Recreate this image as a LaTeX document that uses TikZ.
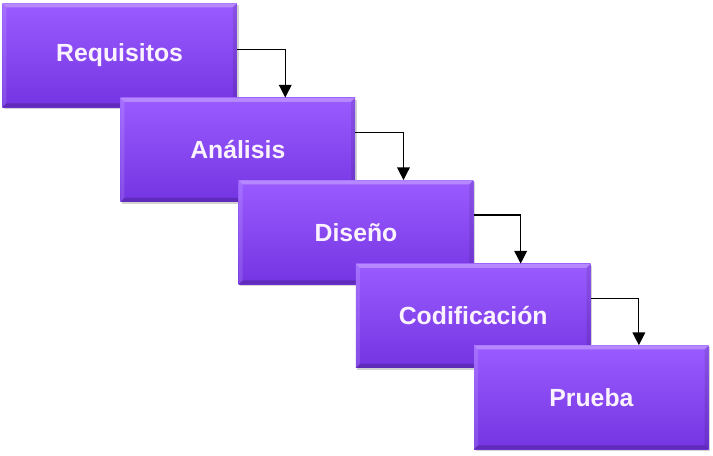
\documentclass[tikz,border=0pt]{standalone}
\usepackage{fontspec}
\setmainfont{Liberation Sans}
\usepackage{tikz}
\usetikzlibrary{positioning,shadows,arrows.meta}
\definecolor{fasearriba}{HTML}{9A5CFF}
\definecolor{faseabajo}{HTML}{7434E2}
\definecolor{fasetexto}{HTML}{FBF2FF}

\begin{document}
\begin{tikzpicture}[
				fase/.style={rectangle, minimum width=176pt, minimum height=78pt,
					top color=fasearriba, bottom color=faseabajo, draw=none,
					drop shadow={shadow xshift=1.2pt, shadow yshift=-1.5pt, opacity=0.35},
					font=\fontsize{18.6pt}{22pt}\selectfont\bfseries, text=fasetexto,
					path picture={
						\fill[white, opacity=0.28] (path picture bounding box.north west) -- (path picture bounding box.north east) -- ([shift={(-3pt,-3pt)}]path picture bounding box.north east) -- ([shift={(3pt,-3pt)}]path picture bounding box.north west) -- cycle;
						\fill[white, opacity=0.12] (path picture bounding box.north west) -- (path picture bounding box.south west) -- ([shift={(3pt,3pt)}]path picture bounding box.south west) -- ([shift={(3pt,-3pt)}]path picture bounding box.north west) -- cycle;
						\fill[black, opacity=0.18] (path picture bounding box.south west) -- (path picture bounding box.south east) -- ([shift={(-3pt,3pt)}]path picture bounding box.south east) -- ([shift={(3pt,3pt)}]path picture bounding box.south west) -- cycle;
						\fill[black, opacity=0.10] (path picture bounding box.north east) -- (path picture bounding box.south east) -- ([shift={(-3pt,3pt)}]path picture bounding box.south east) -- ([shift={(-3pt,-3pt)}]path picture bounding box.north east) -- cycle;
					}},
				flecha/.style={line width=0.9pt, -{Triangle[width=9.5pt, length=9.5pt]}}
			]
			\useasboundingbox (0,0) rectangle (534.75pt,-341.25pt);
			\node[fase, anchor=north west] (requisitos) at (1.5pt,-2.25pt) {Requisitos};
			\node[fase] (analisis) [below right=-7.5pt and -87.75pt of requisitos] {Análisis};
			\node[fase] (diseno) [below right=-16.5pt and -87.75pt of analisis] {Diseño};
			\node[fase] (codificacion) [below right=-15.75pt and -88.5pt of diseno] {Codificación};
			\node[fase] (prueba) [below right=-17.25pt and -87.75pt of codificacion] {Prueba};
			\draw[flecha] ([yshift=4.5pt]requisitos.east) -| ([xshift=35.6pt]analisis.north);
			\draw[flecha] ([yshift=13pt]analisis.east) -| ([xshift=35.6pt]diseno.north);
			\draw[flecha] ([yshift=13pt]diseno.east) -| ([xshift=35.6pt]codificacion.north);
			\draw[flecha] ([yshift=13pt]codificacion.east) -| ([xshift=35.6pt]prueba.north);
			\end{tikzpicture}
\end{document}
